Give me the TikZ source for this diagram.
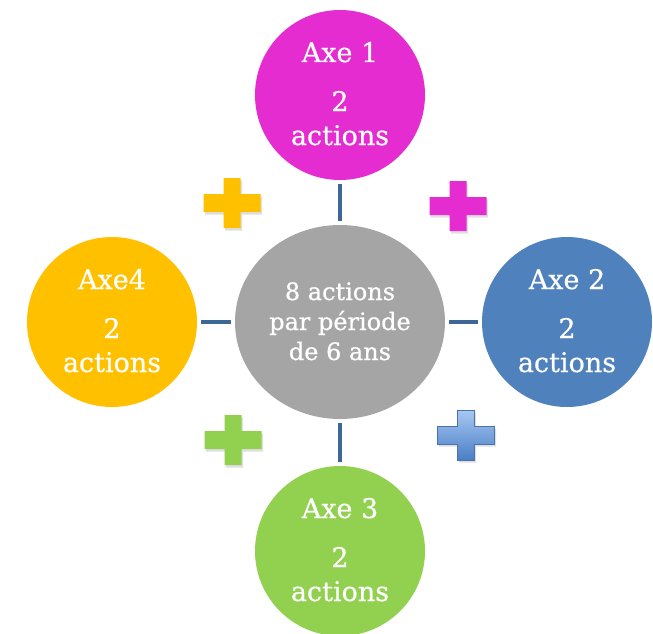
\documentclass[tikz,border=0pt]{standalone}
\usepackage{fontspec}
\setmainfont{DejaVu Serif}
\newfontfamily\txtfont[UprightFeatures={FakeBold=0.6}]{DejaVu Serif}
\usetikzlibrary{shapes.geometric,shadows,calc}
\definecolor{cmag}{HTML}{E42CD0}
\definecolor{cblue}{HTML}{4F81BD}
\definecolor{cgold}{HTML}{FFC000}
\definecolor{cgreen}{HTML}{92D050}
\definecolor{cgrey}{HTML}{A5A5A5}
\definecolor{cline}{HTML}{3C6796}
\definecolor{cbluetop}{HTML}{A8C8F2}
\definecolor{cbluebot}{HTML}{4A7EC6}
\newcommand{\myplus}[3]{%
  \path[#3, shift={(#1,#2)}] (-28.5,-9) -- (-8.5,-9) -- (-8.5,-25) -- (8.5,-25) -- (8.5,-9) -- (28.5,-9)
    -- (28.5,9) -- (8.5,9) -- (8.5,25) -- (-8.5,25) -- (-8.5,9) -- (-28.5,9) -- cycle;}
\tikzset{
  axe/.style={circle, minimum size=170pt, inner sep=0pt},
  bigtxt/.style={text=white, anchor=base, inner sep=0pt, font=\txtfont\fontsize{27}{33}\selectfont},
  midtxt/.style={text=white, anchor=base, inner sep=0pt, font=\txtfont\fontsize{24}{30}\selectfont},
  link/.style={draw=cline, line width=4pt, shorten <=4pt, shorten >=4pt},
  plusshadow/.style={drop shadow={opacity=0.25, shadow xshift=1.5pt, shadow yshift=-2.5pt}}
}
\begin{document}
\begin{tikzpicture}[x=1pt,y=-1pt]
\clip (0,0) rectangle (653,634);
\fill[white] (0,0) rectangle (653,634);
% circles
\node[axe, fill=cmag] (a1) at (340,95) {};
\node[axe, fill=cblue] (a2) at (567,322) {};
\node[axe, fill=cgreen] (a3) at (340,551) {};
\node[axe, fill=cgold] (a4) at (112,322) {};
\node[ellipse, fill=cgrey, minimum width=210pt, minimum height=194pt, inner sep=0pt] (ctr) at (340,322) {};
% connectors
\draw[link] (a1) -- (ctr);
\draw[link] (ctr) -- (a2);
\draw[link] (ctr) -- (a3);
\draw[link] (a4) -- (ctr);
% texts
\foreach \n/\lab in {a1/Axe 1, a2/Axe 2, a3/Axe 3, a4/Axe4}{
  \node[bigtxt] (\n-t1) at ($(\n.center)+(0,-33)$) {\lab};
  \node[bigtxt] (\n-t2) at ($(\n.center)+(0,16)$) {2};
  \node[bigtxt] (\n-t3) at ($(\n.center)+(0,50)$) {actions};
}
\node[midtxt] (c1) at ($(ctr.center)+(0,-22)$) {8 actions};
\node[midtxt] (c2) at ($(ctr.center)+(0,8)$) {par période};
\node[midtxt] (c3) at ($(ctr.center)+(0,38)$) {de 6 ans};
% plus signs
\myplus{232}{203}{fill=cgold, plusshadow}
\myplus{458}{206}{fill=cmag, plusshadow}
\myplus{233}{440}{fill=cgreen, plusshadow}
\myplus{466}{435}{top color=cbluetop, bottom color=cbluebot, draw=cblue!90!black, line width=0.8pt, plusshadow}
\end{tikzpicture}
\end{document}
